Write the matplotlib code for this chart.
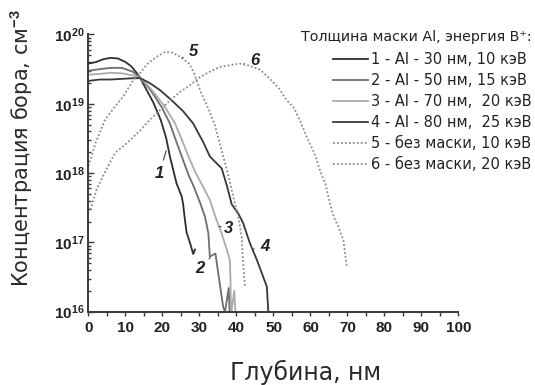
import matplotlib
matplotlib.use("Agg")
import matplotlib.pyplot as plt
from matplotlib.ticker import LogLocator, MultipleLocator, NullFormatter

plt.rcParams['font.family'] = ['DejaVu Sans']
plt.rcParams['mathtext.fontset'] = 'custom'
plt.rcParams['mathtext.rm'] = 'Liberation Sans:bold'
plt.rcParams['mathtext.bf'] = 'Liberation Sans:bold'

# boron profiles, depth in nm, concentration in cm^-3
depth_1 = [0, 2, 4, 6, 8, 10, 11.5, 13, 14, 15.5, 17.5, 19.5, 21, 22, 23.8,
           25.2, 25.6, 25.9, 26.5, 27.4, 28.3, 28.8]
conc_1 = [3.8e19, 4.0e19, 4.4e19, 4.6e19, 4.5e19, 4.0e19, 3.5e19, 2.8e19, 2.34e19,
          1.66e19, 1.05e19, 5.9e18, 3.2e18, 1.74e18, 7.1e17,
          4.6e17, 3.5e17, 2.5e17, 1.4e17, 1.0e17, 6.8e16, 7.9e16]

depth_2 = [0, 3, 6, 9, 12, 14, 16, 18, 19.8, 22, 23.4, 25.2, 27, 28.5, 30.1,
           31.5, 32.4, 32.8, 33.6, 34.3, 35.5, 36.4, 36.9, 37.9, 38.2]
conc_2 = [3.0e19, 3.16e19, 3.3e19, 3.3e19, 2.9e19, 2.34e19, 1.78e19, 1.26e19, 8.9e18,
          5.2e18, 3.2e18, 1.74e18, 9.5e17, 6.3e17, 3.8e17,
          2.34e17, 1.35e17, 6.2e16, 6.6e16, 6.9e16, 2.5e16, 1.17e16, 1.0e16, 2.2e16, 8e15]

depth_3 = [0, 3, 6, 9, 12, 14, 16, 18, 20.5, 23.4, 25.5, 27, 29, 31, 32.8,
           34.6, 36.0, 37.4, 38.2, 38.4, 38.5, 39.4, 39.8]
conc_3 = [2.63e19, 2.7e19, 2.8e19, 2.75e19, 2.57e19, 2.34e19, 1.86e19, 1.38e19, 9.3e18,
          5.2e18, 2.8e18, 1.74e18, 1.0e18, 6.3e17, 4.1e17,
          2.1e17, 1.35e17, 7.8e16, 5.6e16, 2.6e16, 8.9e15, 2.0e16, 8e15]

depth_4 = [0, 3, 6, 9, 12, 14, 16.5, 19.3, 22.5, 25.5, 28.3, 31, 32.8, 33.7, 36.0,
           37.5, 38.7, 40.5, 41.8, 43.6, 45.5, 47.2, 48.2, 48.6]
conc_4 = [2.14e19, 2.24e19, 2.24e19, 2.29e19, 2.34e19, 2.34e19, 2.0e19, 1.58e19, 1.12e19,
          7.9e18, 5.2e18, 2.8e18, 1.74e18, 1.55e18, 1.17e18,
          6.3e17, 3.55e17, 2.6e17, 1.9e17, 9.8e16, 5.6e16, 3.2e16, 2.3e16, 1.0e16]

depth_5 = [0, 2, 4.5, 7, 9.3, 12, 13.9, 16, 18.5, 20.7, 22.5, 24.7, 27.2, 28.5,
           30.5, 32.5, 34.2, 36.4, 38, 39.1, 40.5, 41.4, 41.8, 42.3]
conc_5 = [1.26e18, 2.8e18, 5.9e18, 8.9e18, 1.26e19, 2.14e19, 2.75e19, 3.8e19, 4.8e19,
          5.6e19, 5.5e19, 4.8e19, 3.8e19, 2.8e19,
          1.41e19, 8.3e18, 4.8e18, 1.78e18, 8.3e17, 4.6e17, 2.34e17, 1.2e17, 5.0e16, 2.3e16]

depth_6 = [0.5, 2.2, 4.5, 7.2, 10, 13.7, 16.5, 19.3, 22, 24.7, 27, 30, 33, 35.5, 38,
           40.9, 43.5, 46.4, 49, 51.5, 53.6, 55.4, 57, 59, 61.2, 62.6, 64, 65.3,
           66.3, 67.5, 68.9, 69.8]
conc_6 = [2.95e17, 5.8e17, 1.05e18, 1.95e18, 2.6e18, 4.0e18, 5.8e18, 8.1e18, 1.12e19,
          1.48e19, 1.78e19, 2.4e19, 2.95e19, 3.4e19, 3.6e19,
          3.8e19, 3.55e19, 3.1e19, 2.3e19, 1.66e19, 1.12e19, 8.9e18, 6.0e18, 3.3e18,
          1.86e18, 1.07e18, 7.1e17, 3.55e17, 2.34e17, 1.7e17, 1.07e17, 4.5e16]

labels = ["1 - Al - 30 нм, 10 кэВ",
          "2 - Al - 50 нм, 15 кэВ",
          "3 - Al - 70 нм,  20 кэВ",
          "4 - Al - 80 нм,  25 кэВ",
          "5 - без маски, 10 кэВ",
          "6 - без маски, 20 кэВ"]

fig = plt.figure(figsize=(5.35, 3.85), dpi=100)
ax = fig.add_axes([0.1654, 0.1904, 0.6916, 0.72])

ax.plot(depth_1, conc_1, color='#2e2e2e', lw=1.3, label=labels[0])
ax.plot(depth_2, conc_2, color='#6e6e6e', lw=1.3, label=labels[1])
ax.plot(depth_3, conc_3, color='#ababab', lw=1.3, label=labels[2])
ax.plot(depth_4, conc_4, color='#383838', lw=1.3, label=labels[3])
ax.plot(depth_5, conc_5, color='#8c8c8c', lw=1.3, ls=(0, (1, 1.2)), label=labels[4])
ax.plot(depth_6, conc_6, color='#8c8c8c', lw=1.3, ls=(0, (1, 1.2)), label=labels[5])

ax.set_yscale('log')
ax.set_xlim(0, 100)
ax.set_ylim(1e16, 1e20)
ax.xaxis.set_major_locator(MultipleLocator(10))
ax.xaxis.set_minor_locator(MultipleLocator(5))
ax.yaxis.set_major_locator(LogLocator(base=10, numticks=10))
ax.yaxis.set_minor_locator(LogLocator(base=10, subs=range(2, 10), numticks=20))
ax.yaxis.set_minor_formatter(NullFormatter())

for s in ['top', 'right']:
    ax.spines[s].set_visible(False)
for s in ['left', 'bottom']:
    ax.spines[s].set_color('#3a3a3a')
    ax.spines[s].set_linewidth(1.4)

ax.tick_params(axis='x', which='both', direction='out', length=3, width=1,
               color='#3a3a3a', labelsize=11, labelcolor='#222222', pad=4)
ax.tick_params(axis='y', which='major', direction='in', length=4, width=1,
               color='#3a3a3a', labelsize=11, labelcolor='#222222', pad=3)
ax.tick_params(axis='y', which='minor', direction='in', length=2.5, width=1,
               color='#3a3a3a')
for t in ax.get_xticklabels() + ax.get_yticklabels():
    t.set_family('Liberation Sans')
    t.set_fontweight('bold')

# curve numbers
num_style = dict(fontsize=12, fontweight='bold', fontstyle='italic', color='#222222',
                 family='Liberation Sans',
                 arrowprops=dict(arrowstyle='-', color='#444444', lw=0.8))
ax.annotate('1', xy=(21.2, 2.3e18), xytext=(18.0, 1.0e18), ha='left', va='center', **num_style)
ax.annotate('2', xy=(33.4, 6.4e16), xytext=(28.8, 4.2e16), ha='left', va='center', **num_style)
ax.annotate('3', xy=(35.3, 1.7e17), xytext=(36.6, 1.6e17), ha='left', va='center', **num_style)
ax.annotate('4', xy=(44.6, 8.0e16), xytext=(46.3, 8.8e16), ha='left', va='center', **num_style)
ax.annotate('5', xy=(25.3, 4.6e19), xytext=(27.0, 5.6e19), ha='left', va='center', **num_style)
ax.annotate('6', xy=(41.4, 3.7e19), xytext=(43.6, 4.2e19), ha='left', va='center', **num_style)

leg = ax.legend(loc='upper right', bbox_to_anchor=(532 / 535, 1 - 30 / 385),
                bbox_transform=fig.transFigure, frameon=False,
                title='Толщина маски Al, энергия B⁺:', alignment='right',
                fontsize=10.5, title_fontsize=10.3, handlelength=2.4,
                handletextpad=0.2, labelspacing=0.4, borderpad=0, borderaxespad=0)
for t in leg.get_texts():
    t.set_color('#222222')
leg.get_title().set_color('#222222')
leg._legend_box.sep = 6

fig.text(22 / 535, 1 - 148 / 385, 'Концентрация бора, см$^{-3}$', rotation=90,
         ha='center', va='center', fontsize=15, color='#2a2a2a')
fig.text(306 / 535, 1 - 372 / 385, 'Глубина, нм', ha='center', va='center',
         fontsize=17, color='#2a2a2a')

fig.savefig('out.png', dpi=100)
